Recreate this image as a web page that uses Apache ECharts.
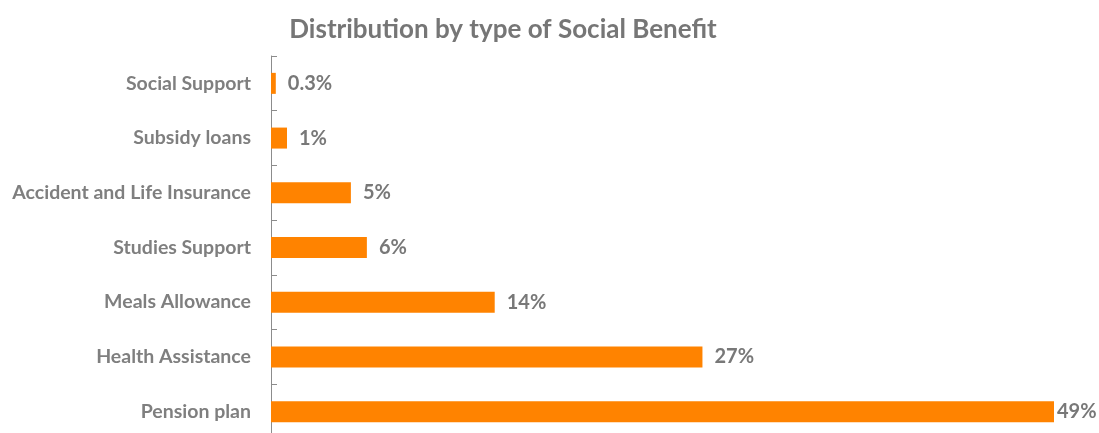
<!DOCTYPE html>
<html>
<head>
<meta charset="utf-8">
<script src="https://cdn.jsdelivr.net/npm/echarts@6/dist/echarts.min.js"></script>
<style>
html,body{margin:0;padding:0;background:#fff;overflow:hidden;}
#chart{width:1099px;height:440px;}
</style>
</head>
<body>
<div id="chart"></div>
<script>
const titleText = "Distribution by type of Social Benefit";
const categories = ["Pension plan", "Health Assistance", "Meals Allowance", "Studies Support", "Accident and Life Insurance", "Subsidy loans", "Social Support"];
const values = [49, 27, 14, 6, 5, 1, 0.3];
const valueLabels = ["49%", "27%", "14%", "6%", "5%", "1%", "0.3%"];

const FONT = "Lato";
const chart = echarts.init(document.getElementById('chart'));
chart.setOption({
  animation: false,
  title: {
    text: titleText,
    left: 498, top: 12,
    textAlign: 'center',
    textStyle: { fontFamily: FONT, fontWeight: 'bold', fontSize: 26, color: '#767676' }
  },
  grid: { left: 271, right: 45, top: 56, height: 383, containLabel: false },
  xAxis: {
    type: 'value', min: 0, max: 49,
    show: false
  },
  yAxis: {
    type: 'category',
    data: categories,
    axisLine: { show: true, lineStyle: { color: '#8c8c8c', width: 1 } },
    axisTick: { show: true, inside: true, length: 6, lineStyle: { color: '#8c8c8c' } },
    axisLabel: { margin: 20, fontFamily: FONT, fontWeight: 'bold', fontSize: 19.5, color: '#7f7f7f' },
    splitLine: { show: false }
  },
  series: [{
    type: 'bar',
    data: values.map((v, i) => ({
      value: v,
      label: { distance: i === 0 ? 3 : 12 }
    })),
    barWidth: 21,
    itemStyle: { color: '#FF8300' },
    label: {
      show: true, position: 'right',
      formatter: p => valueLabels[p.dataIndex],
      fontFamily: FONT, fontWeight: 'bold', fontSize: 20, color: '#787878'
    }
  }]
});
</script>
</body>
</html>
